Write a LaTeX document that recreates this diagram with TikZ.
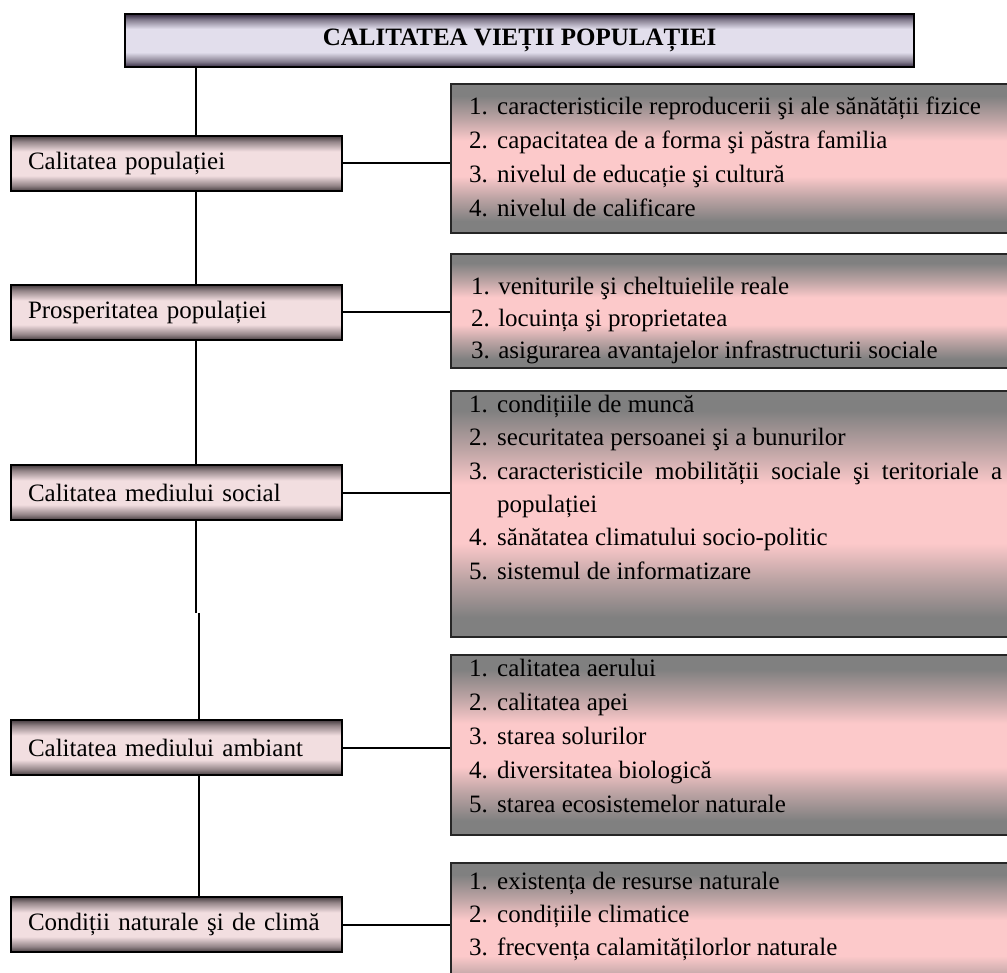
\documentclass[tikz,border=0pt]{standalone}
\usepackage{fontspec}
\setmainfont{Liberation Serif}
\usetikzlibrary{calc}

% colours of the three kinds of boxes
\definecolor{ttdark}{RGB}{50,40,62}
\definecolor{ttlight}{RGB}{226,222,236}
\colorlet{ttmid}{ttdark!55!ttlight}
\definecolor{lbdark}{RGB}{70,60,64}
\definecolor{lblight}{RGB}{242,222,224}
\colorlet{lbmid}{lbdark!55!lblight}
\definecolor{rbgray}{RGB}{128,128,128}
\definecolor{rbpink}{RGB}{252,201,202}
\colorlet{rbmid}{rbgray!50!rbpink}

% dark edges, light band in the middle (the box spans 25bp..75bp)
\pgfdeclareverticalshading{titleshade}{100bp}{color(0bp)=(ttdark); color(25bp)=(ttdark); color(30bp)=(ttmid); color(39bp)=(ttlight); color(61bp)=(ttlight); color(70bp)=(ttmid); color(75bp)=(ttdark); color(100bp)=(ttdark)}
\pgfdeclareverticalshading{leftshade}{100bp}{color(0bp)=(lbdark); color(25bp)=(lbdark); color(30bp)=(lbmid); color(39bp)=(lblight); color(61bp)=(lblight); color(70bp)=(lbmid); color(75bp)=(lbdark); color(100bp)=(lbdark)}
\pgfdeclareverticalshading{rightshade}{100bp}{color(0bp)=(rbgray); color(25bp)=(rbgray); color(29bp)=(rbgray); color(37bp)=(rbmid); color(44bp)=(rbpink); color(56bp)=(rbpink); color(63bp)=(rbmid); color(71bp)=(rbgray); color(75bp)=(rbgray); color(100bp)=(rbgray)}

\newcommand{\itm}[1]{\makebox[28pt][l]{#1}}

\begin{document}
\begin{tikzpicture}[x=1pt, y=-1pt,
  titlebox/.style={draw=black, line width=2.2pt, shade, shading=titleshade,
    minimum width=789pt, minimum height=53pt, anchor=north west, inner sep=0pt,
    font=\fontsize{25pt}{30pt}\selectfont\bfseries},
  leftbox/.style={draw=black, line width=2pt, shade, shading=leftshade,
    minimum width=331pt, minimum height=55pt, anchor=north west,
    inner xsep=17pt, inner ysep=0pt, text width=297pt, align=left,
    font=\fontsize{25pt}{30pt}\selectfont},
  rightbox/.style={draw=black!85, line width=2pt, shade, shading=rightshade,
    minimum width=590pt, anchor=north west, inner sep=0pt},
  listtext/.style={anchor=north west, inner sep=0pt, align=left},
  wire/.style={draw=black, line width=2pt}]

\useasboundingbox (0,0) rectangle (1007,973);
\clip (0,0) rectangle (1007,973);

% heading
\node[titlebox] (title) at (124,13) {CALITATEA VIEȚII POPULAȚIEI};

% categories on the left
\node[leftbox] (l1) at (10,135) {Calitatea populației};
\node[leftbox] (l2) at (10,284) {Prosperitatea populației};
\node[leftbox] (l3) at (10,464) {Calitatea mediului social};
\node[leftbox] (l4) at (10,719) {Calitatea mediului ambiant};
\node[leftbox] (l5) at (10,896) {Condiții naturale şi de climă};

% lists on the right
\node[rightbox, minimum height=149pt] (r1) at (450,83) {};
\node[rightbox, minimum height=114pt] (r2) at (450,253) {};
\node[rightbox, minimum height=246pt] (r3) at (450,390) {};
\node[rightbox, minimum height=180pt] (r4) at (450,654) {};
\node[rightbox, minimum height=150pt] (r5) at (450,862) {};

\node[listtext, font=\fontsize{25pt}{34pt}\selectfont] (t1) at ($(r1.north west)+(19,11)$)
  {\rule{0pt}{20pt}\itm{1.}caracteristicile reproducerii şi ale sănătății fizice\\
   \itm{2.}capacitatea de a forma şi păstra familia\\
   \itm{3.}nivelul de educație şi cultură\\
   \itm{4.}nivelul de calificare};

\node[listtext, font=\fontsize{25pt}{32pt}\selectfont] (t2) at ($(r2.north west)+(21,21)$)
  {\rule{0pt}{20pt}1. veniturile şi cheltuielile reale\\
   2. locuința şi proprietatea\\
   3. asigurarea avantajelor infrastructurii sociale};

\node[listtext, font=\fontsize{25pt}{33.4pt}\selectfont] (t3) at ($(r3.north west)+(19,2)$)
  {\rule{0pt}{20pt}\itm{1.}condițiile de muncă\\
   \itm{2.}securitatea persoanei şi a bunurilor\\
   \itm{3.}\makebox[505pt][s]{caracteristicile mobilității sociale şi teritoriale a}\\
   \itm{}populației\\
   \itm{4.}sănătatea climatului socio-politic\\
   \itm{5.}sistemul de informatizare};

\node[listtext, font=\fontsize{25pt}{34pt}\selectfont] (t4) at ($(r4.north west)+(19,2)$)
  {\rule{0pt}{20pt}\itm{1.}calitatea aerului\\
   \itm{2.}calitatea apei\\
   \itm{3.}starea solurilor\\
   \itm{4.}diversitatea biologică\\
   \itm{5.}starea ecosistemelor naturale};

\node[listtext, font=\fontsize{25pt}{33pt}\selectfont] (t5) at ($(r5.north west)+(19,7)$)
  {\rule{0pt}{20pt}\itm{1.}existența de resurse naturale\\
   \itm{2.}condițiile climatice\\
   \itm{3.}frecvența calamitățilorlor naturale};

% vertical spine linking the heading and the categories
\coordinate (spine) at (196,0);
\coordinate (jog) at (199,613);
\draw[wire] (title.south -| spine) -- (l1.north -| spine);
\draw[wire] (l1.south -| spine) -- (l2.north -| spine);
\draw[wire] (l2.south -| spine) -- (l3.north -| spine);
\draw[wire] (l3.south -| spine) -- (spine |- jog);
\draw[wire] (jog) -- (l4.north -| jog);
\draw[wire] (l4.south -| jog) -- (l5.north -| jog);

% links from each category to its list
\draw[wire] (l1.east) -- (l1.east -| r1.west);
\draw[wire] (l2.east) -- (l2.east -| r2.west);
\draw[wire] (l3.east) -- (l3.east -| r3.west);
\draw[wire] (l4.east) -- (l4.east -| r4.west);
\draw[wire] (l5.east) -- (l5.east -| r5.west);
\end{tikzpicture}
\end{document}
